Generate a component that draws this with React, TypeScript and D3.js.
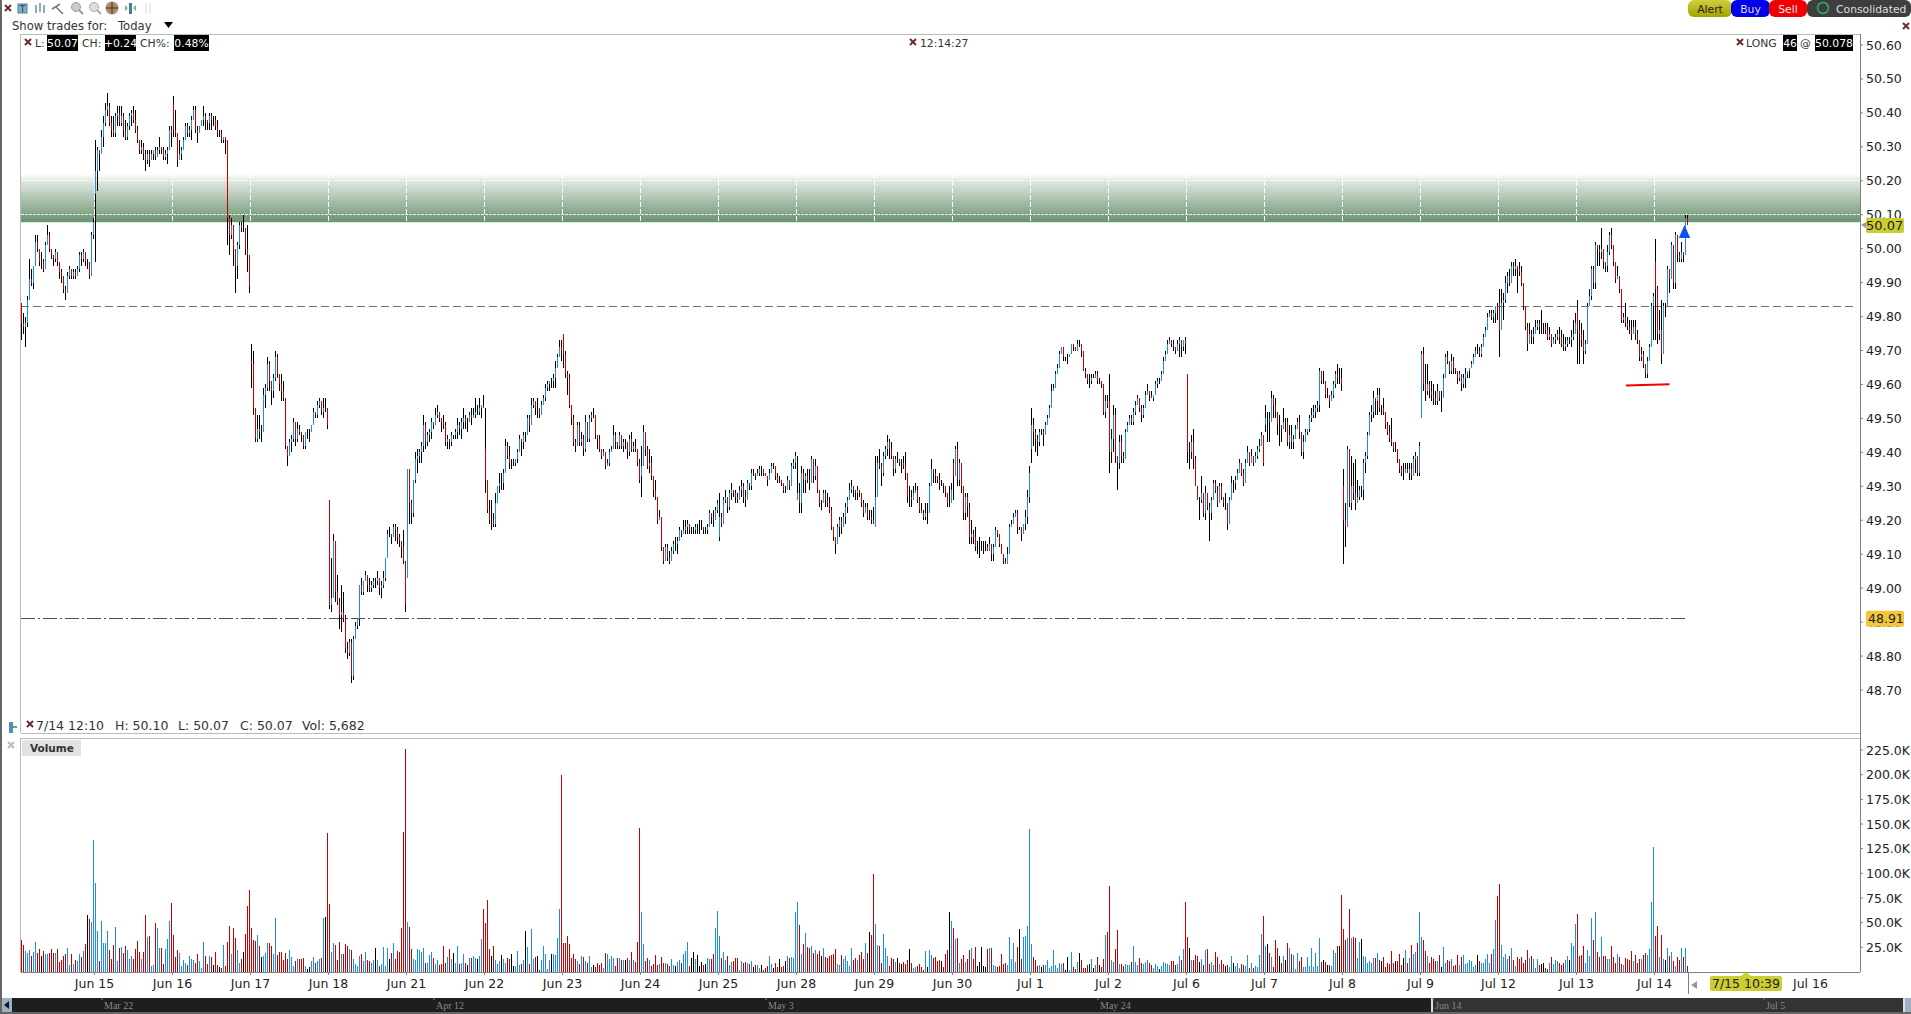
import { useMemo } from 'react'
import { scaleLinear } from 'd3'

// 10-minute bars, prices in cents above 48.00; one row per session
const BASE = 48
const highs = [
  184,181,180,186,197,194,195,204,204,200,199,197,202,207,205,200,198,200,198,195,194,192,189,193,195,194,194,194,195,199,199,200,197,197,196,205,209,
  232,230,229,235,239,243,246,243,239,239,240,242,242,242,240,238,237,240,241,242,241,236,232,232,231,229,229,229,229,229,230,230,233,230,230,229,230,236,236,
  245,241,233,232,230,233,237,237,236,239,242,242,236,236,238,242,240,238,240,240,239,239,238,235,235,233,233,232,210,209,206,199,202,208,208,210,206,207,195,
  172,170,153,151,151,148,159,160,168,167,160,163,170,169,163,163,161,156,142,144,145,150,149,149,148,146,144,146,147,147,148,153,152,155,156,154,156,156,153,
  126,109,116,113,104,97,101,99,92,84,85,85,86,90,91,101,103,102,105,104,103,102,103,103,105,103,102,105,109,117,118,116,119,119,118,116,114,117,107,
  135,134,126,132,140,141,141,143,151,149,146,147,150,149,153,154,152,150,151,149,145,144,146,145,147,150,149,150,153,151,150,152,153,153,156,154,156,154,157,
  153,131,126,126,122,128,130,134,134,135,144,143,142,138,138,138,141,145,143,146,146,151,151,156,156,154,156,152,155,157,160,161,161,162,163,167,169,173,173,
  175,170,164,163,153,151,144,149,149,146,145,151,149,151,152,153,149,145,145,141,141,140,138,141,142,148,146,143,146,144,144,144,142,145,146,143,144,140,138,
  142,148,146,142,141,139,133,132,127,123,120,112,113,113,111,112,114,115,115,118,117,120,120,120,119,118,118,119,119,120,120,118,118,119,123,122,123,124,126,
  128,122,127,129,125,129,131,129,129,128,130,132,131,129,132,131,135,135,134,135,136,136,135,134,133,135,137,137,136,134,133,132,131,130,133,132,137,138,140,
  139,131,136,135,134,135,135,139,138,138,134,128,126,129,129,128,127,124,118,115,119,121,121,122,125,127,131,132,130,129,130,129,128,126,125,125,123,123,124,
  139,139,141,137,140,142,145,144,143,137,139,140,138,138,139,140,132,130,129,130,131,130,127,125,123,125,125,131,138,135,135,133,134,132,131,129,127,130,131,
  138,142,143,138,133,129,128,128,125,120,117,118,114,115,114,114,114,113,115,112,113,118,117,116,112,109,109,112,119,120,122,123,123,118,118,119,123,129,136,
  153,150,147,145,147,147,147,149,151,154,160,160,164,166,170,171,171,168,169,169,172,172,171,173,173,172,169,165,162,163,163,163,164,164,162,161,160,157,157,
  163,147,154,153,139,145,145,140,147,149,151,151,153,155,157,156,154,154,158,160,158,158,157,161,162,162,164,168,170,173,174,173,173,171,173,174,172,173,174,
  163,143,145,147,139,130,127,133,127,130,128,125,127,132,132,130,131,131,127,128,124,127,133,132,133,135,138,137,135,138,142,140,141,139,140,142,144,146,144,
  154,152,152,158,157,156,152,151,148,153,150,150,148,148,145,148,150,151,143,145,147,147,151,153,154,154,155,165,164,164,161,159,156,158,161,164,166,165,165,
  135,125,142,141,139,137,138,132,130,130,138,140,146,152,154,158,156,159,159,154,156,151,149,148,150,143,143,140,137,136,137,137,137,137,137,139,140,138,143,
  170,171,166,166,161,161,160,158,160,158,158,163,169,170,167,169,168,165,164,164,163,163,165,164,165,167,169,171,172,171,172,175,177,181,182,182,182,183,184,
  188,188,187,192,193,194,196,196,197,195,196,195,188,182,178,178,176,177,179,179,179,182,178,178,178,177,175,174,175,176,177,176,175,174,174,174,176,179,181,
  185,179,178,176,173,184,188,195,195,202,201,201,206,198,196,201,205,206,200,195,195,192,185,181,184,180,179,179,179,179,176,172,171,170,166,168,172,184,187,
  203,189,182,185,184,184,195,193,202,200,205,202,199,202,199,210,210,
]
const lows = [
  173,175,171,177,189,189,188,197,199,195,194,193,196,202,199,197,195,196,195,191,190,187,185,187,191,191,191,191,192,193,195,196,195,194,191,194,203,
  196,217,223,228,230,236,239,236,233,233,233,236,236,236,233,232,232,235,236,237,234,231,228,228,226,223,225,224,226,226,226,227,228,228,226,226,225,229,230,
  233,233,224,226,226,230,234,233,233,232,238,234,231,235,236,236,235,235,235,235,236,235,233,233,231,231,228,201,198,203,195,187,191,200,205,205,198,193,187,
  159,151,143,143,144,143,148,153,158,158,154,156,161,162,158,155,155,141,136,139,140,143,142,143,145,143,141,141,144,143,146,148,150,150,153,151,150,152,147,
  94,93,102,96,95,88,87,90,81,79,80,72,73,85,88,89,98,98,102,99,99,99,100,100,101,98,97,100,102,109,115,113,115,114,113,112,109,107,93,
  103,119,119,121,131,134,137,137,140,141,142,143,144,147,149,150,149,146,147,142,141,141,142,144,144,144,145,144,147,147,146,149,148,150,150,151,151,150,153,
  128,122,119,117,118,118,125,128,129,129,134,138,135,135,136,136,137,140,139,141,143,146,146,148,153,151,150,150,151,155,155,158,158,159,159,159,166,168,167,
  165,162,157,153,148,142,140,143,142,142,139,140,143,143,149,150,144,141,140,138,140,135,136,136,140,143,141,141,141,141,140,141,138,139,140,140,140,136,131,
  127,139,139,135,134,132,127,126,119,120,111,107,109,108,107,108,110,111,110,114,115,116,116,116,116,116,116,116,116,116,117,116,116,116,118,119,118,120,122,
  114,118,120,125,122,123,126,127,125,125,128,127,125,124,128,129,129,133,132,133,133,133,133,133,130,132,134,135,132,131,131,130,128,128,129,129,131,135,135,
  126,122,122,128,128,131,129,132,131,132,128,124,123,125,124,124,122,117,114,110,115,115,116,118,119,122,127,128,127,126,126,127,124,121,122,120,120,119,119,
  118,127,135,130,133,138,139,138,138,133,134,137,136,134,135,132,125,124,124,127,129,125,122,122,120,120,119,123,130,131,131,131,129,130,128,127,124,124,125,
  126,136,130,130,128,120,120,121,113,113,113,111,110,109,111,110,111,111,111,108,108,112,115,112,110,107,107,107,110,118,119,121,116,117,114,117,117,119,125,
  137,142,140,139,142,145,142,145,148,150,153,158,161,164,165,170,167,167,166,168,169,170,170,170,171,168,164,162,160,159,160,162,162,160,160,159,151,150,153,
  134,137,140,137,129,135,137,137,139,146,148,148,148,151,154,152,149,150,154,157,155,156,155,157,159,160,161,163,168,169,172,171,170,169,171,168,168,170,169,
  137,135,138,135,130,126,120,125,121,120,123,114,120,127,128,124,125,126,124,123,117,121,127,128,129,133,135,133,130,131,138,136,137,136,138,138,140,142,136,
  146,143,143,151,150,150,145,142,143,147,146,142,141,141,141,144,147,144,139,138,145,145,146,149,150,150,152,152,160,160,156,156,153,156,156,159,160,160,158,
  107,112,124,124,123,126,123,125,126,127,126,134,138,145,149,150,151,151,152,151,151,147,145,143,142,140,140,137,134,133,132,134,134,132,132,136,134,133,133,
  150,158,155,157,156,155,154,154,154,155,152,157,162,166,163,163,163,163,160,161,158,159,159,162,162,165,167,168,169,168,168,171,174,177,180,179,178,178,179,
  168,181,179,184,187,189,191,192,192,187,192,189,182,176,170,173,172,172,175,176,175,175,175,175,173,173,171,172,172,173,172,171,170,170,171,172,171,173,175,
  166,166,171,166,169,176,185,185,188,188,195,195,197,194,193,193,198,200,195,190,191,187,178,178,177,176,175,173,176,173,172,167,167,165,162,162,167,172,173,
  173,172,173,166,169,180,183,187,194,188,188,196,196,196,196,199,207,
]
const closes = [
  178,177,178,185,191,190,195,202,200,196,196,194,201,204,200,198,197,199,196,193,192,188,187,192,194,192,193,192,194,198,197,199,196,196,192,204,208,
  223,229,228,233,237,241,242,237,235,234,239,240,237,239,235,233,236,239,240,238,235,232,229,230,228,226,228,226,228,229,227,229,230,229,227,228,229,235,234,
  235,234,226,228,229,232,236,234,235,238,241,235,234,236,238,239,238,237,239,238,238,236,234,234,232,233,232,209,204,207,200,195,201,207,206,206,200,198,189,
  166,153,144,147,146,146,157,159,166,161,158,162,168,163,160,158,156,142,139,143,144,149,144,147,146,145,142,146,146,146,148,152,151,154,155,152,153,153,148,
  95,97,114,99,96,92,93,91,82,81,84,74,85,89,91,101,99,102,104,101,100,101,102,102,103,100,101,103,109,116,116,115,118,117,115,114,112,108,95,
  135,125,122,132,138,139,140,142,148,143,145,146,149,148,151,152,150,149,148,143,144,143,145,145,146,148,147,149,150,149,149,151,150,151,152,152,153,154,153,
  132,123,120,120,119,125,130,131,131,134,142,139,137,137,137,138,140,144,143,145,145,150,148,154,155,153,153,151,154,156,159,160,161,161,162,165,168,171,170,
  169,163,162,154,150,143,142,148,143,144,141,149,144,150,151,151,145,144,141,139,140,136,137,140,141,145,143,142,145,142,143,143,140,144,141,142,141,137,132,
  136,146,141,136,137,133,129,127,120,121,112,108,112,109,108,111,113,113,114,117,116,117,118,119,117,117,117,118,118,118,118,117,117,118,122,121,120,123,125,
  121,119,126,127,124,128,129,128,127,126,129,130,127,126,131,130,134,134,133,134,135,135,134,133,132,134,136,136,133,132,132,131,129,129,132,130,136,137,139,
  128,125,134,132,133,132,131,138,133,136,129,125,125,128,126,125,123,118,115,113,118,120,118,121,124,126,129,130,129,128,129,128,125,122,124,121,121,120,119,
  127,137,136,134,139,141,143,141,139,135,138,138,137,137,136,134,127,127,126,128,129,126,123,122,121,122,122,130,135,134,133,132,131,131,130,128,125,125,129,
  133,141,132,137,130,122,127,124,115,116,115,112,112,112,112,112,112,111,113,110,112,117,116,113,110,108,107,110,118,119,121,122,118,118,116,119,121,127,134,
  148,146,144,143,146,146,145,148,150,153,158,159,163,165,169,171,168,168,168,169,172,171,170,172,172,170,164,163,161,161,162,162,163,161,161,160,152,155,154,
  140,144,151,139,137,143,139,138,146,148,150,149,152,154,156,153,151,153,157,158,157,156,157,160,161,161,163,167,169,172,173,172,171,170,172,173,171,173,172,
  140,140,143,138,130,126,126,128,122,128,124,122,126,131,129,125,130,127,125,125,119,126,131,131,132,134,137,134,131,137,140,137,139,137,139,141,142,145,137,
  150,150,149,156,154,152,148,148,147,149,149,143,145,143,144,147,149,146,140,143,146,147,150,151,152,153,154,164,161,161,157,157,155,157,160,163,162,162,160,
  120,118,141,125,130,128,125,127,129,129,137,139,145,151,152,156,155,157,153,153,152,148,146,144,143,141,141,138,135,134,134,135,134,135,133,138,139,134,142,
  169,160,158,160,158,157,156,155,158,156,156,162,168,167,164,167,165,164,162,163,160,162,163,164,165,166,168,170,170,169,171,174,176,180,181,180,181,183,182,
  176,184,185,190,192,190,195,194,195,194,193,190,183,177,172,175,174,175,177,178,177,177,177,176,174,175,172,173,174,175,174,172,171,172,173,173,174,175,178,
  176,175,173,170,172,183,186,194,190,201,200,199,200,196,195,199,204,201,196,191,192,188,179,180,178,177,176,175,177,175,173,168,169,166,163,167,171,183,186,
  188,175,176,169,183,183,194,191,201,190,204,198,197,199,198,209,207,
]
// opening print of each session (other bars open at the previous close)
const sessionOpens = [216, 243, 167, 126, 103, 141, 175, 133, 115, 126, 118, 137, 141, 155, 163, 148, 130, 150, 184, 182, 196]
const FIRST_OPEN = 184
const FIRST_SESSION = 37
const SESSION_LEN = 39

// volume in thousands
const volumes = [
  32,27,21,19,22,16,20,30,19,23,16,21,18,18,19,23,19,19,23,10,12,16,18,24,7,18,8,12,11,18,15,21,28,58,54,51,134,
  90,42,11,52,29,29,42,22,13,27,46,11,24,25,19,26,22,13,16,13,23,31,20,13,20,58,35,36,6,7,50,45,24,24,8,23,33,52,70,
  37,15,22,19,6,12,9,7,16,13,12,9,18,11,4,30,16,8,16,15,7,20,7,5,4,27,6,30,47,18,45,34,22,9,13,20,39,67,83,
  45,32,31,38,26,15,16,19,29,29,26,18,55,17,20,20,12,19,13,22,15,6,11,13,13,13,14,6,3,5,11,15,9,11,13,14,55,56,141,
  69,20,29,27,12,30,18,18,28,26,23,22,13,8,6,16,18,11,20,12,11,9,12,24,12,6,8,25,6,24,13,19,29,13,21,20,45,142,226,
  51,46,23,13,12,23,22,20,24,9,9,17,20,14,8,12,7,8,26,9,15,23,13,19,9,26,8,9,18,9,7,14,14,16,14,13,16,33,64,
  50,73,23,16,26,12,8,11,17,13,9,14,13,18,6,6,21,7,8,12,42,25,8,44,13,15,16,2,12,26,18,3,12,18,18,17,34,64,200,
  29,29,36,28,14,18,13,11,8,16,15,11,9,16,5,7,5,9,7,9,4,19,18,13,16,14,6,14,14,12,12,12,14,12,20,12,10,30,146,
  61,28,11,14,12,6,8,17,7,8,15,9,9,8,6,13,7,6,10,12,9,18,21,30,6,14,20,13,17,6,10,7,8,14,13,13,18,45,62,
  36,14,20,12,16,7,10,11,14,14,2,11,9,10,9,8,11,5,7,7,4,7,2,4,6,16,8,4,9,5,13,5,6,11,16,14,15,14,61,
  71,48,18,28,40,25,24,26,19,22,18,21,16,24,15,14,16,17,18,23,8,7,17,13,16,11,6,24,12,14,12,17,20,13,29,19,41,37,99,
  49,27,26,9,39,24,16,6,14,13,10,14,9,8,10,8,12,23,9,4,5,6,8,5,2,21,5,22,17,14,15,11,12,11,5,18,22,61,52,
  45,33,34,9,13,17,10,13,22,24,13,25,6,10,25,6,5,23,24,24,7,6,5,6,18,8,9,7,35,13,29,10,25,44,13,35,36,47,145,
  28,15,12,6,7,5,7,7,12,4,6,22,7,4,9,8,9,2,15,2,20,5,3,10,19,12,4,4,7,8,13,4,7,15,7,5,13,38,41,
  87,12,10,23,43,8,8,6,8,7,7,10,26,10,7,14,9,8,10,12,9,7,4,8,6,3,6,10,9,8,7,11,11,7,8,16,12,23,71,
  35,24,12,12,17,16,10,13,7,22,23,8,10,7,20,15,8,12,8,6,7,5,16,9,6,9,4,8,7,6,17,4,9,4,6,5,17,39,57,
  26,28,19,15,5,32,24,16,9,16,12,29,24,18,17,3,19,11,15,5,5,15,6,24,5,19,6,34,10,12,10,7,7,6,22,19,26,26,78,
  44,32,34,64,34,35,34,14,30,33,16,15,9,11,9,14,14,19,12,11,15,5,9,8,21,9,11,11,18,7,14,22,9,14,27,18,20,29,61,
  35,32,21,16,9,15,13,11,11,17,5,25,9,12,11,13,6,7,17,7,15,17,8,9,12,11,5,7,17,11,9,9,13,18,9,18,23,53,77,
  89,27,15,18,13,16,24,12,6,15,13,15,9,12,22,14,16,13,4,13,7,8,9,4,3,9,15,8,12,11,9,7,9,12,16,12,29,26,49,
  59,16,17,26,9,22,16,55,32,61,20,15,35,16,16,13,13,26,15,9,18,15,8,7,14,13,12,21,11,17,9,13,13,17,19,17,23,71,127,
  36,47,15,38,13,12,24,16,20,11,6,15,12,24,15,24,5.7,
]

const dateLabels = ['Jun 15','Jun 16','Jun 17','Jun 18','Jun 21','Jun 22','Jun 23','Jun 24','Jun 25','Jun 28','Jun 29','Jun 30','Jul 1','Jul 2','Jul 6','Jul 7','Jul 8','Jul 9','Jul 12','Jul 13','Jul 14']
const priceTicks = [50.6,50.5,50.4,50.3,50.2,50.1,50.0,49.9,49.8,49.7,49.6,49.5,49.4,49.3,49.2,49.1,49.0,48.9,48.8,48.7]
const volumeTicks = [25,50,75,100,125,150,175,200,225]
const navigatorLabels: [string, number][] = [['Mar 22',102],['Apr 12',434],['May 3',766],['May 24',1098],['Jun 14',1433],['Jul 5',1764]]

const LONG_PRICE = 50.078
const BAND_TOP = 50.22
const LAST_PRICE = 50.07
const ALERT_PRICE = 48.91
const AVG_PRICE = 49.83
const FONT = '"DejaVu Sans", Verdana, sans-serif'

const RED = '#c80000'
const BLUE = '#1b8fe8'
const GREY = '#808080'
const TEXT = '#333'

const PLOT = { left: 21, right: 1860, top: 34, priceBottom: 733, volTop: 738, volBottom: 972 }

function Cross({ x, y, color = '#6e2c2c' }: { x: number; y: number; color?: string }) {
  return <path d={`M${x - 3},${y - 3}L${x + 3},${y + 3}M${x + 3},${y - 3}L${x - 3},${y + 3}`} stroke={color} strokeWidth={2} fill="none" />
}

function Boxed({ x, y, w, text }: { x: number; y: number; w: number; text: string }) {
  return (
    <g>
      <rect x={x} y={y - 8} width={w} height={16} fill="#000" />
      <text x={x + w / 2} y={y + 4} textAnchor="middle" fontSize={10.8} fill="#fff">{text}</text>
    </g>
  )
}

function Button({ x, w, label, fill, color }: { x: number; w: number; label: string; fill: string; color: string }) {
  return (
    <g>
      <rect x={x} y={0} width={w} height={17} rx={6} fill={fill} />
      <text x={x + w / 2} y={12.5} textAnchor="middle" fontSize={10.8} fill={color}>{label}</text>
    </g>
  )
}

export default function App() {
  const x = useMemo(() => scaleLinear().domain([0, 833]).range([21.5, 1687.5]), [])
  const y = useMemo(() => scaleLinear().domain([48.7, 50.6]).range([690, 45]), [])
  const v = useMemo(() => scaleLinear().domain([0, 225]).range([972, 750]), [])
  const cents = (c: number) => y(BASE + c / 100)
  const tickX = (k: number) => x(FIRST_SESSION - 0.5 + k * SESSION_LEN)

  const opens = closes.map((c, i) => {
    if (i === 0) return FIRST_OPEN
    const k = (i - FIRST_SESSION) / SESSION_LEN
    return Number.isInteger(k) && k >= 0 ? sessionOpens[k] : closes[i - 1]
  })
  const barColor = (i: number) => (closes[i] > opens[i] ? BLUE : closes[i] < opens[i] ? RED : '#000')

  return (
    <svg width={1911} height={1014} style={{ position: 'fixed', left: 0, top: 0, background: '#fff' }} fontFamily={FONT}>
      <defs>
        <linearGradient id="band" x1="0" x2="0" y1="0" y2="1">
          <stop offset="0" stopColor="#fff" />
          <stop offset="0.12" stopColor="#e4ebe4" />
          <stop offset="1" stopColor="#6a9370" />
        </linearGradient>
        <linearGradient id="alertBtn" x1="0" x2="0" y1="0" y2="1">
          <stop offset="0" stopColor="#cfcf40" />
          <stop offset="1" stopColor="#a3a300" />
        </linearGradient>
      </defs>

      {/* toolbar */}
      <rect x={0} y={0} width={2} height={1014} fill="#666" />
      <Cross x={8} y={8} />
      <rect x={18} y={4} width={9} height={9} fill="#7fb0cc" stroke="#4f7f9c" />
      <text x={22.5} y={12} textAnchor="middle" fontSize={9} fill="#234">T</text>
      <path d="M36,5V13M40,3V12M44,5V13" stroke="#6a93a8" strokeWidth={1.5} />
      <path d="M52,9L60,4M56,7L63,14" stroke="#777" strokeWidth={1.5} fill="none" />
      <circle cx={76} cy={7} r={4.5} fill="#ccc" stroke="#999" />
      <path d="M79,10L83,14" stroke="#999" strokeWidth={2} />
      <circle cx={94} cy={7} r={4.5} fill="#ddd" stroke="#aaa" />
      <path d="M97,10L101,14" stroke="#aaa" strokeWidth={2} />
      <circle cx={112} cy={8} r={6.5} fill="#b08a6a" />
      <path d="M106,8H118M112,2V14" stroke="#333" />
      <rect x={129} y={3} width={3} height={11} fill="#4c7a96" />
      <path d="M128,8L125,5V11ZM133,8L136,5V11Z" fill="#7fae8f" />
      <path d="M146,3V14M150,3V14" stroke="#cdd" />
      <text x={12} y={30} fontSize={11.6} fill={TEXT}>Show trades for:</text>
      <text x={118} y={30} fontSize={11.6} fill={TEXT}>Today</text>
      <path d="M164,22H173L168.5,28Z" fill="#000" />

      {/* top-right buttons */}
      <Button x={1688} w={44} label="Alert" fill="url(#alertBtn)" color="#222" />
      <Button x={1731} w={39} label="Buy" fill="#0000e8" color="#ddd" />
      <Button x={1769} w={38} label="Sell" fill="#f00000" color="#eee" />
      <rect x={1807} y={0} width={104} height={17} rx={6} fill="#3e3e3e" />
      <circle cx={1823} cy={8} r={5.5} fill="none" stroke="#2fb06a" strokeWidth={1.5} />
      <text x={1836} y={12.5} fontSize={10.8} fill="#ddd">Consolidated</text>
      <Cross x={1906} y={26} />

      {/* green cost band and grid, only the band makes the white grid show */}
      <rect x={PLOT.left} y={y(BAND_TOP)} width={PLOT.right - PLOT.left} height={y(LONG_PRICE) - y(BAND_TOP)} fill="url(#band)" />
      {priceTicks.map((t) => (
        <line key={t} x1={PLOT.left} x2={PLOT.right} y1={y(t)} y2={y(t)} stroke="#fff" strokeOpacity={0.8} strokeDasharray="3,1" shapeRendering="crispEdges" />
      ))}
      {dateLabels.map((d, k) => (
        <line key={d} x1={tickX(k)} x2={tickX(k)} y1={y(BAND_TOP)} y2={y(LONG_PRICE)} stroke="#fff" strokeDasharray="5,2" shapeRendering="crispEdges" />
      ))}
      <line x1={PLOT.left} x2={PLOT.right - 3} y1={y(AVG_PRICE)} y2={y(AVG_PRICE)} stroke="#707070" strokeDasharray="8,4" shapeRendering="crispEdges" />
      <line x1={PLOT.left} x2={x(833)} y1={y(ALERT_PRICE)} y2={y(ALERT_PRICE)} stroke="#505050" strokeDasharray="14,3,2,3" shapeRendering="crispEdges" />

      {/* price bars: black high-low, coloured open-close */}
      <g shapeRendering="crispEdges">
        {closes.map((c, i) => (
          <g key={i}>
            <line x1={x(i)} x2={x(i)} y1={cents(highs[i])} y2={cents(lows[i])} stroke="#000" />
            {opens[i] !== c && <line x1={x(i)} x2={x(i)} y1={cents(opens[i])} y2={cents(c)} stroke={barColor(i)} />}
          </g>
        ))}
      </g>

      {/* markers */}
      <line x1={x(802.2)} x2={x(824)} y1={y(49.597)} y2={y(49.601)} stroke="#f00000" strokeWidth={2} />
      <path d={`M${x(831.5)},${y(LAST_PRICE)}L${x(831.5) + 5.7},${y(LAST_PRICE) + 13}H${x(831.5) - 5.7}Z`} fill="#0a50ff" />

      {/* frame */}
      <g stroke="#bbb" shapeRendering="crispEdges">
        <line x1={20.5} x2={20.5} y1={PLOT.top} y2={PLOT.priceBottom} />
        <line x1={20.5} x2={PLOT.right} y1={PLOT.top} y2={PLOT.top} />
        <line x1={20.5} x2={PLOT.right} y1={PLOT.priceBottom} y2={PLOT.priceBottom} />
        <line x1={20.5} x2={20.5} y1={PLOT.volTop} y2={PLOT.volBottom} />
        <line x1={20.5} x2={PLOT.right} y1={PLOT.volTop} y2={PLOT.volTop} />
      </g>
      <line x1={PLOT.right + 0.5} x2={PLOT.right + 0.5} y1={PLOT.top} y2={PLOT.volBottom} stroke={GREY} shapeRendering="crispEdges" />
      <line x1={20.5} x2={PLOT.right} y1={PLOT.volBottom + 0.5} y2={PLOT.volBottom + 0.5} stroke={GREY} shapeRendering="crispEdges" />

      {/* price axis */}
      {priceTicks.map((t) => (
        <g key={t}>
          <line x1={PLOT.right} x2={PLOT.right + 3} y1={y(t)} y2={y(t)} stroke={GREY} />
          <text x={1866} y={y(t) + 4.5} fontSize={12.5} fill="#222">{t.toFixed(2)}</text>
        </g>
      ))}
      <path d={`M1861,${y(LAST_PRICE)}L1866,${y(LAST_PRICE) - 3}V${y(LAST_PRICE) + 3}Z`} fill="#999" />
      <rect x={1866} y={y(LAST_PRICE) - 7} width={38} height={15} rx={2} fill="#cccc33" />
      <text x={1866} y={y(LAST_PRICE) + 5} fontSize={13} fill="#222">{LAST_PRICE.toFixed(2)}</text>
      <rect x={1866} y={y(ALERT_PRICE) - 8} width={38} height={16} rx={2} fill="#f2c53d" />
      <text x={1868} y={y(ALERT_PRICE) + 4.5} fontSize={12.5} fill="#222">{ALERT_PRICE.toFixed(2)}</text>

      {/* price panel headers */}
      <g fontSize={10.8} fill={TEXT}>
        <Cross x={28} y={42} />
        <text x={35} y={47}>L:</text>
        <Boxed x={47} y={43} w={31} text="50.07" />
        <text x={82} y={47}>CH:</text>
        <Boxed x={105} y={43} w={31} text="+0.24" />
        <text x={140} y={47}>CH%:</text>
        <Boxed x={174} y={43} w={35} text="0.48%" />
        <Cross x={913} y={42} />
        <text x={920} y={47}>12:14:27</text>
        <Cross x={1740} y={42} />
        <text x={1746} y={47}>LONG</text>
        <Boxed x={1783} y={43} w={14} text="46" />
        <text x={1800} y={47}>@</text>
        <Boxed x={1815} y={43} w={38} text="50.078" />
      </g>

      {/* status row */}
      <g fontSize={12.5} fill={TEXT}>
        <Cross x={30} y={724} />
        <text x={36} y={730}>7/14 12:10</text>
        <text x={115} y={730}>H: 50.10</text>
        <text x={178} y={730}>L: 50.07</text>
        <text x={240} y={730}>C: 50.07</text>
        <text x={302} y={730}>Vol: 5,682</text>
      </g>
      <rect x={9} y={722} width={4} height={11} fill="#4f8fb8" />
      <path d="M12,727H17" stroke="#2a9a5a" strokeWidth={1.5} />
      <Cross x={11} y={745} color="#bbb" />

      {/* volume */}
      <rect x={22} y={740} width={59} height={16} fill="#e2e2e2" />
      <text x={30} y={752} fontSize={10.5} fontWeight="bold" fill={TEXT}>Volume</text>
      <g shapeRendering="crispEdges">
        {volumes.map((d, i) => (
          <line key={i} x1={x(i)} x2={x(i)} y1={v(d)} y2={PLOT.volBottom} stroke={barColor(i)} />
        ))}
      </g>
      {volumeTicks.map((t) => (
        <g key={t}>
          <line x1={PLOT.right} x2={PLOT.right + 3} y1={v(t)} y2={v(t)} stroke={GREY} />
          <text x={1866} y={v(t) + 4.5} fontSize={12.5} fill="#222">{t.toFixed(1)}K</text>
        </g>
      ))}

      {/* time axis */}
      {dateLabels.map((d, k) => (
        <g key={d}>
          <line x1={tickX(k)} x2={tickX(k)} y1={PLOT.volBottom} y2={PLOT.volBottom + 3} stroke={GREY} />
          <text x={tickX(k)} y={988} textAnchor="middle" fontSize={12.5} fill="#222">{d}</text>
        </g>
      ))}
      <line x1={1688.5} x2={1688.5} y1={PLOT.volBottom} y2={994} stroke={GREY} shapeRendering="crispEdges" />
      <path d="M1691,985L1697,981V989Z" fill="#999" />
      <path d="M1741,976L1746,972L1751,976Z" fill="#cccc33" />
      <rect x={1710} y={976} width={72} height={15} rx={2} fill="#cccc33" />
      <text x={1746} y={988} textAnchor="middle" fontSize={12.5} fill="#222">7/15 10:39</text>
      <text x={tickX(22)} y={988} textAnchor="middle" fontSize={12.5} fill="#222">Jul 16</text>

      {/* navigator strip */}
      <rect x={2} y={998} width={1909} height={16} fill="#666" />
      <rect x={12} y={998} width={1419} height={14} fill="#1e1e1e" />
      <rect x={1433} y={998} width={470} height={14} fill="#333" />
      <rect x={2} y={998} width={10} height={14} fill="#9fb0c0" />
      <path d="M9,1001V1009L4,1005Z" fill="#0c1a30" />
      <rect x={1431} y={998} width={2} height={14} fill="#ddd" />
      <rect x={1903} y={998} width={2} height={14} fill="#ddd" />
      <rect x={1905} y={998} width={6} height={14} fill="#9fb0c0" />
      {navigatorLabels.map(([label, px]) => (
        <g key={label}>
          <line x1={px} x2={px} y1={998} y2={1000} stroke="#888" />
          <text x={px + 2} y={1009} fontSize={10} fontFamily='"Liberation Serif", serif' fill="#888">{label}</text>
        </g>
      ))}
    </svg>
  )
}
